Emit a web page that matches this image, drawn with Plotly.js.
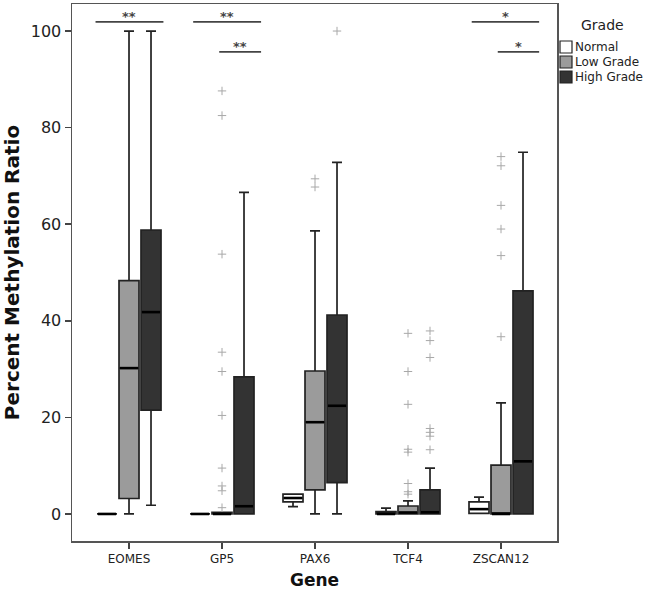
<!DOCTYPE html>
<html>
<head>
<meta charset="utf-8">
<script src="https://cdn.plot.ly/plotly-3.0.1.min.js"></script>
<style>html,body{margin:0;padding:0;background:#fff;}#chart{width:647px;height:594px;}</style>
</head>
<body>
<div id="chart"></div>
<script>
// ---- data ----
const genes = ['EOMES', 'GP5', 'PAX6', 'TCF4', 'ZSCAN12'];
const grades = ['Normal', 'Low Grade', 'High Grade'];

const normalLo  = [0, 0, 1.5, 0, 0.1];
const normalQ1  = [0, 0, 2.5, 0, 0.1];
const normalMed = [0, 0, 3.3, 0, 1.0];
const normalQ3  = [0, 0, 4.1, 0.5, 2.5];
const normalHi  = [0, 0, 4.1, 1.2, 3.5];

const lowLo  = [0, 0, 0, 0, 0];
const lowQ1  = [3.2, 0, 5.0, 0, 0];
const lowMed = [30.2, 0, 19.0, 0.3, 0];
const lowQ3  = [48.3, 0.35, 29.6, 1.65, 10.1];
const lowHi  = [100, 0.35, 58.6, 2.7, 23.0];

const highLo  = [1.8, 0, 0, 0, 0];
const highQ1  = [21.5, 0, 6.5, 0, 0];
const highMed = [41.8, 1.6, 22.4, 0.35, 10.9];
const highQ3  = [58.8, 28.4, 41.2, 5.0, 46.2];
const highHi  = [100, 66.6, 72.8, 9.5, 74.9];

const lowOutGene = ['GP5','GP5','GP5','GP5','GP5','GP5','GP5','GP5','GP5','GP5',
                    'PAX6','PAX6',
                    'TCF4','TCF4','TCF4','TCF4','TCF4','TCF4','TCF4','TCF4',
                    'ZSCAN12','ZSCAN12','ZSCAN12','ZSCAN12','ZSCAN12','ZSCAN12'];
const lowOutVal  = [87.6, 82.5, 53.8, 33.5, 29.5, 20.4, 9.5, 5.8, 4.8, 1.3,
                    69.4, 67.7,
                    37.4, 29.5, 22.7, 13.4, 12.8, 6.3, 4.6, 4.1,
                    74.0, 72.1, 63.9, 59.0, 53.5, 36.7];
const highOutGene = ['PAX6','TCF4','TCF4','TCF4','TCF4','TCF4','TCF4','TCF4'];
const highOutVal  = [100, 37.9, 35.9, 32.4, 17.7, 16.9, 16.1, 13.3];

const sigFrom  = ['EOMES', 'GP5', 'GP5', 'ZSCAN12', 'ZSCAN12'];
const sigStart = [-0.36, -0.31, -0.03, -0.315, -0.035];
const sigEnd   = [0.37, 0.42, 0.42, 0.41, 0.41];
const sigLevel = [101.9, 101.9, 95.7, 101.9, 95.7];
const sigLabel = ['**', '**', '**', '*', '*'];

// ---- layout constants ----
const OFF = 22 / 93;      // group offset (category units)
const BW = 20 / 93;       // box width
const fills = ['#ffffff', '#9b9b9b', '#333333'];
const lineCol = '#222222';
const FONT = 'DejaVu Sans, sans-serif';

const idx = genes.map((g, i) => i);
function boxTrace(k, lo, q1, med, q3, hi) {
  return {
    type: 'box', name: grades[k], showlegend: false,
    x: idx.map(i => i + (k - 1) * OFF),
    lowerfence: lo, q1: q1, median: med, q3: q3, upperfence: hi,
    width: BW, whiskerwidth: 0.5, boxpoints: false,
    fillcolor: fills[k],
    line: {color: lineCol, width: 1.7},
    hoverinfo: 'skip'
  };
}
function medianTrace(k, med) {
  const xs = [], ys = [];
  idx.forEach(i => {
    const c = i + (k - 1) * OFF;
    xs.push(c - BW / 2 + 0.01, c + BW / 2 - 0.01, null);
    ys.push(med[i], med[i], null);
  });
  return {type: 'scatter', mode: 'lines', showlegend: false, name: grades[k] + ' median',
          x: xs, y: ys, line: {color: '#000', width: 2.6}, hoverinfo: 'skip'};
}
function outTrace(k, gs, vals) {
  return {
    type: 'scatter', mode: 'markers', showlegend: false, name: grades[k] + ' outliers',
    x: gs.map(g => genes.indexOf(g) + (k - 1) * OFF),
    y: vals,
    marker: {symbol: 'cross-thin', size: 6, color: '#a8a8a8', line: {color: '#a8a8a8', width: 1}},
    hoverinfo: 'skip'
  };
}

const data = [
  boxTrace(0, normalLo, normalQ1, normalMed, normalQ3, normalHi),
  boxTrace(1, lowLo, lowQ1, lowMed, lowQ3, lowHi),
  boxTrace(2, highLo, highQ1, highMed, highQ3, highHi),
  medianTrace(0, normalMed),
  medianTrace(1, lowMed),
  medianTrace(2, highMed),
  outTrace(1, lowOutGene, lowOutVal),
  outTrace(2, highOutGene, highOutVal)
];

const shapes = [];
const annotations = [];
sigFrom.forEach((g, i) => {
  const c = genes.indexOf(g);
  shapes.push({type: 'line', xref: 'x', yref: 'y', x0: c + sigStart[i], x1: c + sigEnd[i],
               y0: sigLevel[i], y1: sigLevel[i], line: {color: '#444', width: 1.7}});
  annotations.push({xref: 'x', yref: 'y', x: c + (sigStart[i] + sigEnd[i]) / 2, y: sigLevel[i],
                    text: sigLabel[i], showarrow: false, yanchor: 'bottom', yshift: -4,
                    font: {family: FONT, size: 13, color: '#444', weight: 'bold'}});
});

// legend (drawn manually next to the frame)
annotations.push({xref: 'paper', yref: 'paper', x: 1, y: 1, xanchor: 'center', yanchor: 'middle',
                  xshift: 45, yshift: -21, text: 'Grade', showarrow: false,
                  font: {family: FONT, size: 14, color: '#222'}});
grades.forEach((gname, k) => {
  const top = -37 - k * 15;
  shapes.push({type: 'rect', xref: 'paper', yref: 'paper', xsizemode: 'pixel', ysizemode: 'pixel',
               xanchor: 1, yanchor: 1, x0: 3, x1: 15, y0: top, y1: top - 12,
               fillcolor: fills[k], line: {color: lineCol, width: 1.2}});
  annotations.push({xref: 'paper', yref: 'paper', x: 1, y: 1, xanchor: 'left', yanchor: 'middle',
                    xshift: 16, yshift: top - 6, text: gname, showarrow: false,
                    font: {family: FONT, size: 12, color: '#222'}});
});

const layout = {
  width: 647, height: 594,
  margin: {l: 72, r: 90, t: 4, b: 53},
  paper_bgcolor: '#fff', plot_bgcolor: '#fff',
  showlegend: false,
  boxmode: 'overlay',
  xaxis: {
    type: 'linear', range: [-0.613, 4.602],
    tickvals: idx, ticktext: genes,
    ticks: 'outside', ticklen: 6, tickwidth: 1.5, tickcolor: '#444',
    showline: true, linecolor: '#555', linewidth: 1.5, mirror: true,
    showgrid: false, zeroline: false,
    tickfont: {family: FONT, size: 12, color: '#222'},
    title: {text: 'Gene', font: {family: FONT, size: 17, color: '#111', weight: 'bold'}, standoff: 9}
  },
  yaxis: {
    range: [-5.6, 105.6],
    tickvals: [0, 20, 40, 60, 80, 100],
    ticks: 'outside', ticklen: 6, tickwidth: 1.5, tickcolor: '#444',
    showline: true, linecolor: '#555', linewidth: 1.5, mirror: true,
    showgrid: false, zeroline: false,
    tickfont: {family: FONT, size: 16, color: '#222'},
    title: {text: 'Percent Methylation Ratio', font: {family: FONT, size: 20, color: '#111', weight: 'bold'}, standoff: 8}
  },
  shapes: shapes,
  annotations: annotations
};

Plotly.newPlot('chart', data, layout, {displayModeBar: false, staticPlot: true});
</script>
</body>
</html>
